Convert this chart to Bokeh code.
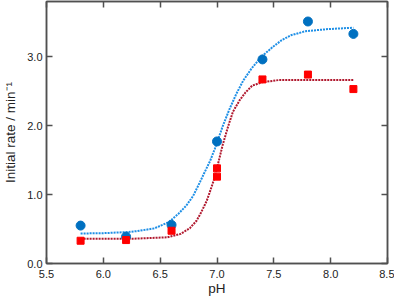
from bokeh.plotting import figure
from bokeh.models import LinearAxis, FixedTicker, NumeralTickFormatter, Range1d
from bokeh.embed import file_html
from bokeh.resources import INLINE

# measured data
ph = [5.8, 6.2, 6.6, 7.0, 7.4, 7.8, 8.2]
rate_blue = [0.55, 0.39, 0.56, 1.77, 2.96, 3.51, 3.33]
ph_red = [5.8, 6.2, 6.6, 7.0, 7.0, 7.4, 7.8, 8.2]
rate_red = [0.33, 0.34, 0.475, 1.38, 1.26, 2.67, 2.74, 2.53]

# fitted curves
fit_blue_x = [5.8, 6.0, 6.2, 6.3, 6.45, 6.575, 6.66, 6.73, 6.79, 6.85, 6.89, 6.94, 6.98,
              7.0, 7.05, 7.11, 7.17, 7.23, 7.30, 7.385, 7.49, 7.57, 7.65, 7.78, 7.98, 8.2]
fit_blue_y = [0.435, 0.44, 0.455, 0.47, 0.51, 0.60, 0.72, 0.84, 0.98, 1.18, 1.32, 1.49, 1.66,
              1.75, 1.99, 2.24, 2.46, 2.65, 2.82, 2.99, 3.14, 3.24, 3.31, 3.37, 3.40, 3.42]
fit_red_x = [5.8, 6.0, 6.27, 6.56, 6.68, 6.76, 6.82, 6.86, 6.91, 6.95, 6.98, 7.01, 7.05,
             7.10, 7.14, 7.20, 7.25, 7.31, 7.40, 7.54, 7.8, 8.2]
fit_red_y = [0.36, 0.36, 0.36, 0.38, 0.43, 0.51, 0.62, 0.74, 0.91, 1.10, 1.25, 1.45, 1.72,
             2.00, 2.20, 2.37, 2.48, 2.58, 2.63, 2.66, 2.66, 2.66]

x_ticks = [5.5, 6.0, 6.5, 7.0, 7.5, 8.0, 8.5]
y_ticks = [0.0, 1.0, 2.0, 3.0]

FONT = "Liberation Sans"
AXIS_COLOR = "#505050"

p = figure(width=394, height=299, output_backend="svg", toolbar_location=None,
           x_range=Range1d(5.5, 8.5), y_range=Range1d(0, 3.8),
           min_border_left=41, min_border_right=7, min_border_top=1, min_border_bottom=36)
p.grid.visible = False
p.outline_line_color = AXIS_COLOR
p.outline_line_width = 1.5
p.background_fill_color = "white"
p.border_fill_color = "white"

p.line(fit_blue_x, fit_blue_y, line_color="#1E8FE6", line_width=2, line_dash="2 1")
p.line(fit_red_x, fit_red_y, line_color="#B0182E", line_width=2, line_dash="2 1")
p.scatter(ph, rate_blue, marker="circle", size=9, fill_color="#0070C0", line_color="#0070C0")
p.scatter(ph_red, rate_red, marker="square", size=7, fill_color="#FF0000", line_color="#FF0000")

def style(ax, ticks, labels=True):
    ax.ticker = FixedTicker(ticks=ticks)
    ax.formatter = NumeralTickFormatter(format="0.0")
    ax.major_tick_in = 6
    ax.major_tick_out = 0
    ax.minor_tick_line_color = None
    ax.axis_line_color = AXIS_COLOR
    ax.axis_line_width = 1.5
    ax.major_tick_line_color = AXIS_COLOR
    ax.major_tick_line_width = 1.5
    ax.major_label_text_font = FONT
    ax.major_label_text_font_size = "11px" if labels else "0px"
    ax.major_label_text_color = "#222222" if labels else None
    ax.axis_label_text_font = FONT
    ax.axis_label_text_font_size = "13.5px"
    ax.axis_label_text_font_style = "normal"
    ax.axis_label_text_color = "#222222"

style(p.xaxis[0], x_ticks)
style(p.yaxis[0], y_ticks)
p.xaxis[0].axis_label = "pH"
p.xaxis[0].axis_label_standoff = 0
p.xaxis[0].major_label_standoff = 6
p.yaxis[0].axis_label = "Initial rate / min⁻¹"
p.yaxis[0].axis_label_standoff = 6
p.yaxis[0].major_label_standoff = 4

top = LinearAxis()
style(top, x_ticks, labels=False)
top.major_label_standoff = 0
p.add_layout(top, "above")
right = LinearAxis()
style(right, y_ticks, labels=False)
right.major_label_standoff = 0
p.add_layout(right, "right")

open("out.html", "w").write(file_html(p, INLINE))
